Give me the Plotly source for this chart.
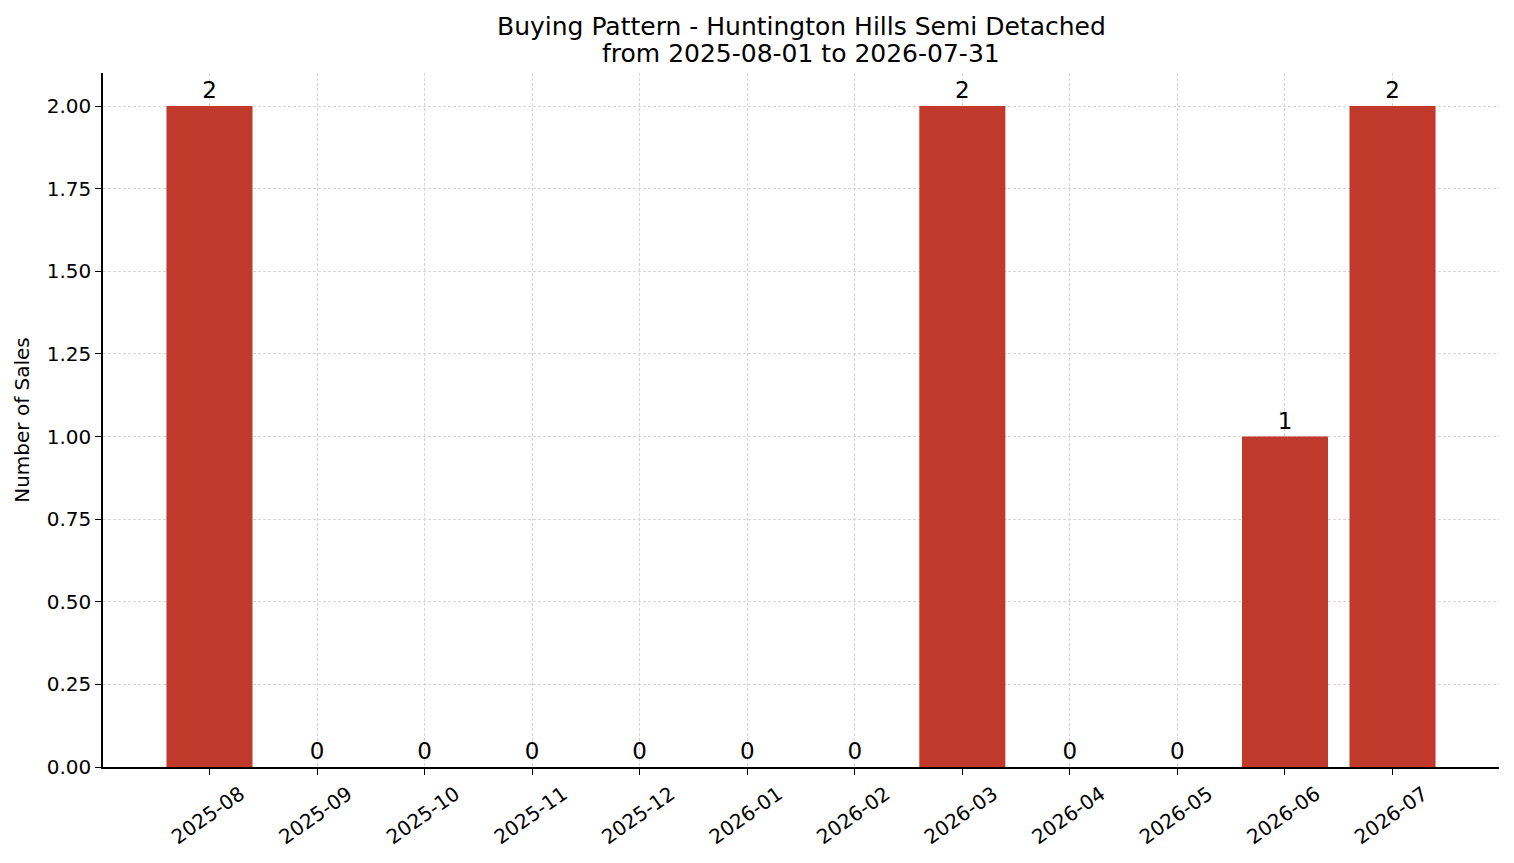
import plotly.graph_objects as go

months = ["2025-08", "2025-09", "2025-10", "2025-11", "2025-12", "2026-01",
          "2026-02", "2026-03", "2026-04", "2026-05", "2026-06", "2026-07"]
sales = [2, 0, 0, 0, 0, 0, 0, 2, 0, 0, 1, 2]

title_lines = ["Buying Pattern - Huntington Hills Semi Detached",
               "from 2025-08-01 to 2026-07-31"]

bar_color = "#c0392b"
font = "DejaVu Sans"

fig = go.Figure()

fig.add_trace(
    go.Bar(
        x=list(range(len(months))),
        y=sales,
        width=0.8,
        marker=dict(color=bar_color, line=dict(width=0)),
        text=[str(v) for v in sales],
        textposition="outside",
        textfont=dict(family=font, size=23, color="black"),
        cliponaxis=False,
    )
)

# the page body has an 8px margin, so the figure is drawn 8px smaller
fig.update_layout(
    width=1506,
    height=855,
    paper_bgcolor="white",
    plot_bgcolor="white",
    margin=dict(l=95, r=15, t=65, b=96),
    showlegend=False,
    font=dict(family=font, size=20, color="black"),
)

# two title lines
for text, shift in zip(title_lines, [47, 20]):
    fig.add_annotation(
        text=text, xref="paper", yref="paper", x=0.5, y=1,
        xanchor="center", yanchor="middle", yshift=shift,
        showarrow=False, font=dict(family=font, size=25, color="black"),
    )

grid = dict(showgrid=True, gridcolor="#d6d6d6", gridwidth=1, griddash="3px,2px")

fig.update_xaxes(
    range=[-0.99, 11.99],
    tickmode="array",
    tickvals=list(range(len(months))),
    ticktext=months,
    tickangle=-35,
    ticklabelshift=31,
    ticks="outside",
    ticklen=6,
    tickwidth=1.2,
    tickcolor="black",
    showline=True,
    linecolor="black",
    linewidth=1.5,
    zeroline=False,
    tickfont=dict(family=font, size=20),
    **grid,
)

fig.update_yaxes(
    range=[0, 2.1],
    tick0=0,
    dtick=0.25,
    tickformat=".2f",
    ticks="outside",
    ticklen=6,
    tickwidth=1.2,
    tickcolor="black",
    showline=True,
    linecolor="black",
    linewidth=1.5,
    zeroline=False,
    tickfont=dict(family=font, size=20),
    title=dict(text="Number of Sales", font=dict(family=font, size=20), standoff=12),
    **grid,
)

fig.write_html("out.html")
